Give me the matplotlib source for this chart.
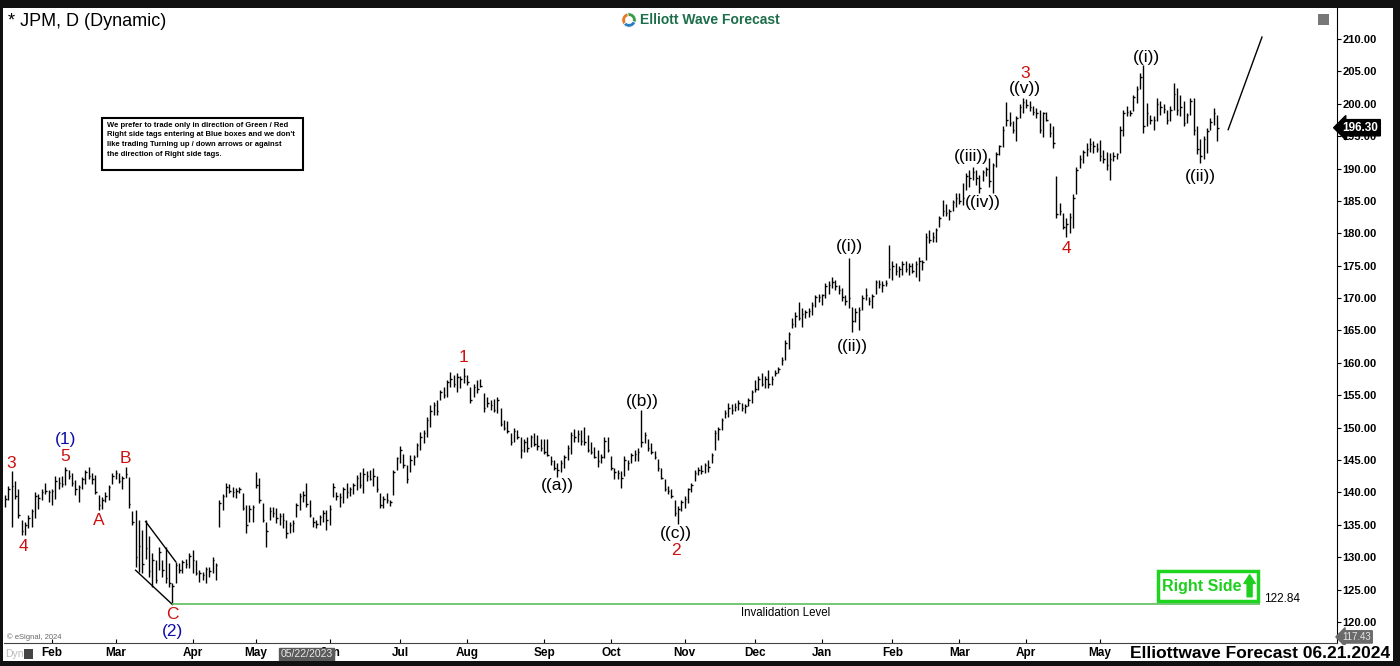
import matplotlib
matplotlib.use("Agg")
import matplotlib.pyplot as plt
import matplotlib.transforms as mtransforms
from matplotlib.patches import Rectangle
import numpy as np
import pandas as pd

plt.rcParams['font.family'] = ['Liberation Sans', 'DejaVu Sans']
NARROW = ['Liberation Sans Narrow', 'Liberation Sans', 'DejaVu Sans']

W, H = 1400, 666

# trading days shown on the chart (NYSE holidays removed)
holidays = ['2023-01-16', '2023-02-20', '2023-04-07', '2023-05-29', '2023-06-19',
            '2023-07-04', '2023-09-04', '2023-11-23', '2023-12-25', '2024-01-01',
            '2024-01-15', '2024-02-19', '2024-03-29', '2024-05-27', '2024-06-19']
days = pd.bdate_range('2023-01-11', '2024-06-21')
days = days[~days.isin(pd.to_datetime(holidays))]

# daily bars, one line per month
highs = [
    139.6, 141.0, 143.3, 141.7, 140.6, 135.7, 135.5, 136.5, 137.5, 140.0, 139.8, 140.5, 141.5, 140.4,
    140.6, 142.5, 142.4, 142.5, 143.9, 143.5, 143.0, 141.9, 141.1, 142.4, 143.5, 143.9, 143.0, 142.7, 139.6, 139.3, 140.1, 141.1, 143.0,
    143.5, 143.0, 142.5, 143.9, 142.4, 137.1, 137.3, 135.7, 134.2, 135.7, 133.2, 130.6, 129.6, 131.6, 129.6, 131.6, 129.1, 126.0, 129.3, 129.1, 129.6, 129.8, 130.6,
    131.1, 129.6, 128.0, 127.7, 128.5, 128.5, 130.1, 129.1, 138.8, 139.7, 141.5, 141.3, 140.9, 140.7, 140.9, 139.9, 138.0, 138.0, 138.0,
    143.1, 142.2, 138.4, 135.4, 137.8, 137.8, 137.6, 136.8, 136.8, 135.7, 135.4, 135.7, 138.4, 139.9, 140.2, 141.5, 138.8, 136.2, 135.7, 136.5, 137.3, 137.3,
    138.0, 141.5, 140.1, 139.9, 140.9, 141.5, 140.9, 141.5, 142.7, 143.1, 143.8, 143.3, 143.4, 143.8, 142.6, 139.9, 139.4, 139.9, 138.9, 143.5, 145.5,
    147.1, 146.0, 144.3, 145.8, 145.8, 147.6, 149.3, 149.6, 151.6, 153.5, 154.0, 154.2, 155.8, 156.3, 157.4, 158.6, 158.1, 158.4, 157.9, 159.2,
    158.1, 156.3, 156.8, 157.4, 157.5, 155.4, 154.7, 154.3, 154.5, 154.8, 153.0, 151.2, 151.0, 149.2, 150.0, 149.7, 148.6, 148.3, 148.6, 148.9, 149.2, 148.9, 148.2,
    148.2, 148.2, 145.6, 145.0, 144.5, 145.0, 145.8, 147.3, 149.3, 149.8, 149.6, 149.6, 150.1, 148.9, 147.8, 147.0, 146.5, 146.0, 148.6, 148.6,
    145.6, 143.8, 143.5, 143.3, 145.6, 145.0, 146.1, 146.6, 146.8, 152.7, 149.4, 148.2, 147.6, 146.4, 145.1, 143.8, 142.0, 141.0, 140.5, 138.9, 137.9, 138.9,
    139.4, 140.7, 141.5, 143.5, 144.0, 144.2, 144.5, 145.0, 146.1, 149.6, 150.1, 151.5, 152.7, 153.8, 153.6, 153.8, 154.3, 153.8, 153.6, 154.6, 155.8,
    157.4, 157.9, 158.4, 157.9, 158.9, 157.9, 158.9, 159.4, 160.9, 163.5, 164.8, 166.9, 167.9, 169.4, 168.4, 168.2, 168.4, 169.4, 170.5, 170.7,
    170.7, 172.3, 172.6, 173.3, 172.8, 172.0, 171.5, 170.5, 176.2, 168.6, 168.4, 168.6, 170.5, 171.5, 170.2, 170.7, 172.8, 172.8, 172.6, 172.8, 178.2,
    175.7, 175.4, 174.9, 175.7, 175.7, 175.4, 175.4, 175.7, 176.4, 175.9, 180.0, 180.5, 180.2, 180.8, 182.6, 185.2, 184.6, 183.8, 185.2, 186.2,
    186.2, 187.7, 189.3, 189.8, 190.3, 189.8, 189.0, 189.8, 190.3, 191.6, 190.9, 192.6, 193.7, 196.5, 200.3, 198.8, 197.3, 198.1, 199.9, 200.9,
    200.7, 200.4, 199.6, 199.4, 199.1, 198.8, 198.8, 197.0, 196.5, 188.8, 184.7, 183.1, 182.4, 183.1, 186.0, 190.3, 192.1, 192.9, 193.9, 194.7, 194.2, 193.9,
    194.4, 192.9, 192.6, 192.4, 192.6, 192.4, 196.5, 199.1, 199.6, 199.1, 201.4, 202.7, 204.8, 206.0, 200.1, 198.3, 198.1, 200.9, 200.4, 199.9, 199.1, 199.6,
    203.2, 202.5, 201.4, 200.4, 198.6, 200.9, 200.9, 196.5, 194.5, 195.0, 196.3, 197.8, 199.3, 198.3,
]
lows = [
    137.8, 138.8, 134.7, 139.0, 136.0, 133.4, 133.5, 134.5, 134.7, 136.0, 137.5, 138.8, 139.8, 138.5,
    138.0, 139.0, 140.5, 140.8, 141.2, 142.0, 141.0, 139.6, 138.5, 140.5, 141.3, 142.0, 141.3, 139.8, 137.3, 137.5, 138.5, 138.8, 141.3,
    142.0, 141.5, 140.5, 142.3, 137.6, 135.0, 128.5, 127.7, 127.6, 129.8, 127.0, 125.4, 126.0, 128.0, 127.0, 126.0, 125.4, 122.84, 126.0, 127.5, 127.5, 128.3, 128.3,
    127.5, 127.3, 126.2, 126.5, 126.0, 127.0, 127.5, 126.5, 134.7, 137.3, 139.3, 139.9, 139.3, 139.1, 139.9, 137.3, 133.7, 135.4, 135.4,
    140.7, 138.4, 135.4, 131.6, 135.7, 136.2, 135.3, 135.0, 134.5, 133.0, 133.7, 133.9, 136.2, 137.3, 138.6, 137.8, 136.2, 134.7, 134.5, 135.0, 135.4, 134.2,
    134.9, 139.3, 138.8, 137.8, 138.4, 139.1, 139.4, 139.7, 140.4, 140.7, 139.9, 141.7, 141.9, 141.0, 140.0, 137.6, 137.6, 138.4, 137.9, 139.6, 143.5,
    144.5, 143.8, 141.5, 143.2, 144.3, 145.5, 146.5, 147.6, 148.6, 150.1, 152.0, 152.0, 154.3, 154.6, 154.7, 156.3, 156.3, 155.5, 156.1, 156.9,
    156.6, 153.8, 154.7, 155.4, 156.3, 152.4, 153.2, 152.7, 152.4, 152.2, 150.2, 149.6, 149.2, 147.3, 147.8, 148.2, 145.3, 146.3, 146.3, 147.0, 147.2, 146.6, 146.4,
    145.9, 145.6, 144.2, 143.5, 142.4, 143.2, 143.7, 145.0, 146.0, 147.8, 147.8, 147.3, 147.3, 146.3, 146.0, 145.3, 144.0, 144.5, 145.3, 146.3,
    143.5, 142.0, 142.0, 140.7, 142.5, 143.5, 144.5, 144.8, 144.8, 147.0, 147.6, 146.4, 145.9, 145.1, 143.3, 142.0, 140.3, 139.7, 139.1, 136.3, 135.2, 137.1,
    137.6, 138.4, 140.0, 141.7, 142.7, 142.8, 143.0, 143.2, 144.5, 146.5, 148.1, 149.6, 151.5, 151.6, 152.1, 152.5, 152.8, 152.5, 152.3, 153.3, 153.8,
    155.5, 155.8, 156.4, 156.1, 156.1, 156.6, 157.9, 158.4, 159.7, 160.4, 162.2, 165.4, 165.6, 166.6, 165.6, 166.9, 167.1, 167.4, 168.7, 169.4,
    168.9, 170.0, 170.7, 171.5, 171.3, 170.7, 169.5, 168.9, 168.5, 164.8, 166.3, 165.1, 168.2, 169.7, 168.9, 168.4, 170.7, 171.5, 171.0, 171.8, 173.1,
    172.8, 173.6, 173.3, 173.6, 174.1, 173.6, 173.8, 173.3, 172.6, 174.4, 175.9, 178.5, 178.7, 178.7, 181.0, 182.6, 182.6, 182.0, 183.4, 184.1,
    184.6, 184.4, 186.7, 187.2, 188.2, 187.5, 186.2, 188.0, 188.8, 187.2, 186.2, 190.3, 192.1, 193.4, 196.5, 196.5, 195.5, 194.2, 197.8, 198.6,
    199.4, 198.9, 198.3, 197.8, 195.5, 194.9, 197.3, 194.9, 193.1, 182.4, 182.9, 180.6, 179.5, 180.1, 180.8, 186.0, 190.1, 190.9, 191.9, 192.6, 192.4, 192.6,
    191.1, 190.9, 189.8, 188.2, 191.1, 191.4, 192.4, 195.0, 198.1, 198.1, 198.9, 200.1, 202.2, 195.5, 196.5, 196.8, 196.0, 197.3, 198.3, 198.6, 196.8, 197.3,
    199.1, 198.3, 198.1, 196.5, 197.1, 198.3, 195.2, 192.2, 190.9, 191.4, 192.4, 196.0, 196.7, 194.2,
]
closes = [
    139.0, 140.5, 141.0, 139.5, 136.5, 134.0, 135.0, 136.0, 137.2, 139.5, 139.2, 140.0, 140.3, 140.0,
    140.2, 141.8, 141.5, 141.3, 143.5, 142.5, 141.5, 140.5, 140.8, 142.0, 143.2, 142.5, 142.0, 140.0, 138.0, 138.8, 139.5, 140.8, 142.5,
    143.0, 141.8, 142.2, 142.8, 138.2, 135.5, 130.0, 131.8, 129.0, 131.5, 127.8, 129.5, 126.5, 130.8, 128.0, 126.8, 126.0, 125.5, 128.8, 128.0, 129.2, 129.0, 130.2,
    129.5, 127.6, 127.5, 127.2, 128.2, 127.8, 129.6, 128.8, 138.3, 139.5, 140.8, 140.3, 140.0, 140.2, 140.5, 137.6, 135.0, 137.5, 137.8,
    141.2, 138.8, 135.8, 134.0, 137.2, 136.8, 136.0, 136.3, 135.8, 133.8, 135.0, 135.3, 138.0, 139.5, 139.6, 138.2, 136.5, 135.5, 135.2, 136.2, 136.8, 135.8,
    137.5, 140.8, 139.5, 139.3, 140.5, 140.0, 140.5, 141.2, 142.2, 141.2, 142.8, 142.5, 142.0, 142.5, 140.5, 138.0, 139.0, 138.8, 138.5, 143.2, 145.3,
    146.5, 144.2, 142.0, 145.0, 145.5, 147.3, 148.5, 149.2, 151.2, 152.5, 153.5, 152.5, 155.5, 155.0, 157.0, 157.5, 156.8, 157.8, 157.5, 157.9,
    157.0, 154.2, 156.3, 156.0, 156.5, 153.0, 153.8, 153.5, 152.8, 154.3, 150.5, 150.0, 149.5, 147.8, 149.5, 148.5, 146.5, 147.8, 146.8, 148.5, 147.5, 147.2, 146.8,
    146.2, 145.8, 144.8, 143.8, 143.5, 144.5, 145.5, 146.8, 148.8, 148.5, 149.0, 148.0, 147.8, 146.5, 146.3, 145.5, 144.8, 145.5, 148.0, 146.5,
    143.8, 143.2, 143.0, 142.2, 145.0, 144.5, 145.8, 146.0, 146.2, 147.8, 148.8, 146.8, 146.2, 145.5, 143.8, 142.3, 140.6, 140.2, 139.5, 136.8, 137.5, 138.5,
    139.0, 140.5, 141.2, 143.0, 143.5, 143.3, 144.2, 144.0, 145.8, 149.2, 149.8, 151.2, 152.2, 153.0, 152.8, 153.2, 153.8, 153.0, 153.3, 154.3, 155.5,
    156.0, 157.5, 156.8, 157.5, 156.8, 157.5, 158.5, 159.0, 160.5, 163.0, 164.5, 166.0, 167.2, 167.0, 167.5, 167.8, 168.0, 169.0, 170.2, 170.1,
    170.5, 171.8, 172.0, 172.5, 171.8, 171.2, 170.2, 169.5, 170.0, 166.5, 167.8, 168.2, 170.0, 170.5, 169.5, 170.4, 172.5, 172.2, 172.0, 172.3, 174.5,
    175.0, 174.2, 174.5, 175.2, 174.5, 175.0, 174.2, 175.2, 175.8, 175.5, 179.5, 179.0, 179.5, 180.5, 182.3, 183.5, 183.2, 183.5, 184.8, 185.5,
    185.0, 185.5, 188.8, 188.5, 189.5, 188.5, 187.0, 189.5, 190.0, 188.0, 190.5, 192.2, 193.5, 196.0, 197.5, 197.0, 196.0, 197.8, 199.5, 200.3,
    199.8, 199.5, 198.8, 198.5, 196.0, 198.5, 197.5, 195.5, 194.0, 183.0, 183.5, 181.0, 181.5, 182.5, 185.5, 189.8, 191.5, 192.5, 193.0, 193.8, 193.5, 193.0,
    192.0, 191.5, 190.5, 191.5, 192.0, 192.2, 196.0, 198.5, 198.8, 198.5, 201.0, 202.3, 204.2, 196.5, 198.5, 197.5, 197.5, 200.0, 199.5, 199.2, 197.5, 199.0,
    201.5, 199.0, 199.5, 197.0, 198.2, 200.5, 196.0, 193.0, 192.0, 194.5, 195.8, 197.2, 198.5, 196.3,
]
assert len(highs) == len(lows) == len(closes) == len(days)

# Elliott wave labels: text, bar index, price, colour
RED, BLUE, BLK = '#cc1111', '#0d0daa', 'black'
wave_labels = [
    ('3', 1.8, 144.5, RED), ('4', 5.4, 131.7, RED), ('(1)', 18, 148.1, BLUE),
    ('5', 18, 145.5, RED), ('A', 28, 135.7, RED), ('B', 36, 145.2, RED),
    ('C', 50, 121.1, RED), ('(2)', 50, 118.6, BLUE), ('1', 137, 160.9, RED),
    ('((a))', 165, 141.1, BLK), ('((b))', 190.3, 154.1, BLK), ('((c))', 200.4, 133.7, BLK),
    ('2', 200.4, 131.1, RED), ('((i))', 252.1, 177.9, BLK), ('((ii))', 253, 162.5, BLK),
    ('((iii))', 288.5, 191.9, BLK), ('((iv))', 292.1, 184.7, BLK), ('((v))', 304.7, 202.3, BLK),
    ('3', 304.7, 204.7, RED), ('4', 316.9, 177.7, RED), ('((i))', 340.8, 207.2, BLK),
    ('((ii))', 356.9, 188.8, BLK),
]
wedge_upper = ([42, 51], [135.5, 129.3])
wedge_lower = ([39, 50], [128.0, 122.7])
projection = ([365.3, 375.4], [196.0, 210.3])
invalidation = 122.84
last_price = 196.30
low_tag = 117.43

x = np.arange(len(days))

fig = plt.figure(figsize=(W / 100, H / 100), dpi=100)
fig.patch.set_facecolor('white')
ax = fig.add_axes([4 / W, 23 / H, 1333 / W, 635 / H])
ax.set_xlim(-0.3, 397.8)
ax.set_ylim(116.76, 214.78)

ax.vlines(x, lows, highs, color='black', lw=1.0)
ax.hlines(closes, x, x + 0.45, color='black', lw=1.0)

# axes styling
for s in ['left', 'top']:
    ax.spines[s].set_visible(False)
ax.spines['bottom'].set_color('#444444')
ax.spines['right'].set_color('black')
ax.spines['right'].set_linewidth(0.8)
ax.yaxis.tick_right()
yt = np.arange(120, 211, 5)
ax.set_yticks(yt)
ax.set_yticklabels(['%.2f' % v for v in yt], fontweight='bold', fontsize=8)
ax.tick_params(axis='y', length=3, width=0.8, pad=1)

month_pos = [i for i in range(1, len(days)) if days[i].month != days[i - 1].month]
month_pos = month_pos[:-1]  # the June 2024 label sits under the footer text
ax.set_xticks(month_pos)
ax.set_xticklabels([days[i].strftime('%b') for i in month_pos], fontweight='bold', fontsize=8.5)
ax.tick_params(axis='x', length=3, width=0.8, direction='in', pad=3)

# annotations
for txt, xi, yi, col in wave_labels:
    ax.text(xi, yi, txt, color=col, fontsize=12.5, ha='center', va='center')

ax.plot(*wedge_upper, color='black', lw=1)
ax.plot(*wedge_lower, color='black', lw=1)
ax.plot(*projection, color='black', lw=1)

ax.hlines(invalidation, 50, 374.9, color='#5cbf5c', lw=1.2)
ax.text(233, 121.35, 'Invalidation Level', fontsize=8.3, ha='center', va='center')
ax.text(376, 123.6, '%.2f' % invalidation, fontsize=8.5, ha='left', va='center')

GREEN = '#1fcf1f'
ax.add_patch(Rectangle((344.4, 123.3), 29.9, 4.6, fill=False, ec='#1fd41f', lw=2.5))
ax.text(345.4, 125.55, 'Right Side', family=NARROW, fontweight='bold', fontsize=11.5,
        color=GREEN, ha='left', va='center')
ax.annotate('', xy=(371.7, 127.3), xytext=(371.7, 123.9),
            arrowprops=dict(arrowstyle='simple,head_width=0.9,head_length=0.7,tail_width=0.4',
                            color=GREEN, mutation_scale=9, shrinkA=0, shrinkB=0))

blend = mtransforms.blended_transform_factory(ax.transAxes, ax.transData)
ax.text(1.004, last_price, '%.2f' % last_price, transform=blend, color='white', fontweight='bold',
        fontsize=8.5, ha='left', va='center', zorder=6,
        bbox=dict(boxstyle='larrow,pad=0.18', fc='black', ec='black'))
ax.text(1.004, 117.7, '%.2f' % low_tag, transform=blend, color='#e6e6e6', fontsize=7,
        ha='left', va='center', zorder=6,
        bbox=dict(boxstyle='larrow,pad=0.12', fc='#6a6a6a', ec='#6a6a6a'))

cursor = mtransforms.blended_transform_factory(ax.transData, ax.transAxes)
ax.text(90, -0.0175, '05/22/2023', transform=cursor, family=NARROW, fontsize=7.5,
        color='#e8e8e8', ha='center', va='center', zorder=6,
        bbox=dict(boxstyle='square,pad=0.15', fc='#5a5a5a', ec='#5a5a5a'))


def fx(px):
    return px / W


def fy(py):
    return 1 - py / H


# header, notes and frame
fig.text(fx(8), fy(22), '* JPM, D (Dynamic)', fontsize=13, va='center', ha='left')
fig.text(fx(640), fy(20), 'Elliott Wave Forecast', fontsize=10, fontweight='bold',
         color='#1d6e4b', va='center', ha='left')
logo = fig.add_axes([fx(620), fy(29), 18 / W, 18 / H])
logo.pie([1, 1, 1], colors=['#e8792b', '#2a7fc1', '#3a9a47'], startangle=100,
         wedgeprops=dict(width=0.5, edgecolor='white', linewidth=0.5))
logo.set_aspect('equal')
logo.axis('off')

note = ("We prefer to trade only in direction of Green / Red\n"
        "Right side tags entering at Blue boxes and we don't\n"
        "like trading Turning up / down arrows or against\n"
        "the direction of Right side tags.")
fig.patches.append(Rectangle((fx(102), fy(170)), fx(201), 52 / H, transform=fig.transFigure,
                             fill=False, ec='black', lw=1.5))
fig.text(fx(107), fy(122), note, family=NARROW, fontweight='bold', fontsize=5.5,
         va='top', ha='left', linespacing=1.5)

fig.text(fx(1390), fy(654), 'Elliottwave Forecast 06.21.2024', fontsize=12.5, fontweight='bold',
         ha='right', va='center', zorder=5,
         bbox=dict(boxstyle='square,pad=0.1', fc='white', ec='none'))
fig.text(fx(7), fy(637), '\u00a9 eSignal, 2024', fontsize=5.5, color='#666666', va='center')
fig.text(fx(5), fy(654), 'Dyn', fontsize=7.5, color='#bbbbbb', va='center')
fig.patches.append(Rectangle((fx(24), fy(659)), 9 / W, 10 / H, transform=fig.transFigure,
                             fc='#444444', ec='none'))
fig.patches.append(Rectangle((fx(1318), fy(25)), 11 / W, 11 / H, transform=fig.transFigure,
                             fc='#777777', ec='none'))

for rx, ry, rw, rh in [(0, 0, W, 8), (0, 661, W, 5), (0, 0, 3, H), (1393, 0, 7, H)]:
    fig.patches.append(Rectangle((fx(rx), fy(ry + rh)), rw / W, rh / H,
                                 transform=fig.transFigure, fc='#111111', ec='none', zorder=10))

fig.savefig('out.png', dpi=100)
